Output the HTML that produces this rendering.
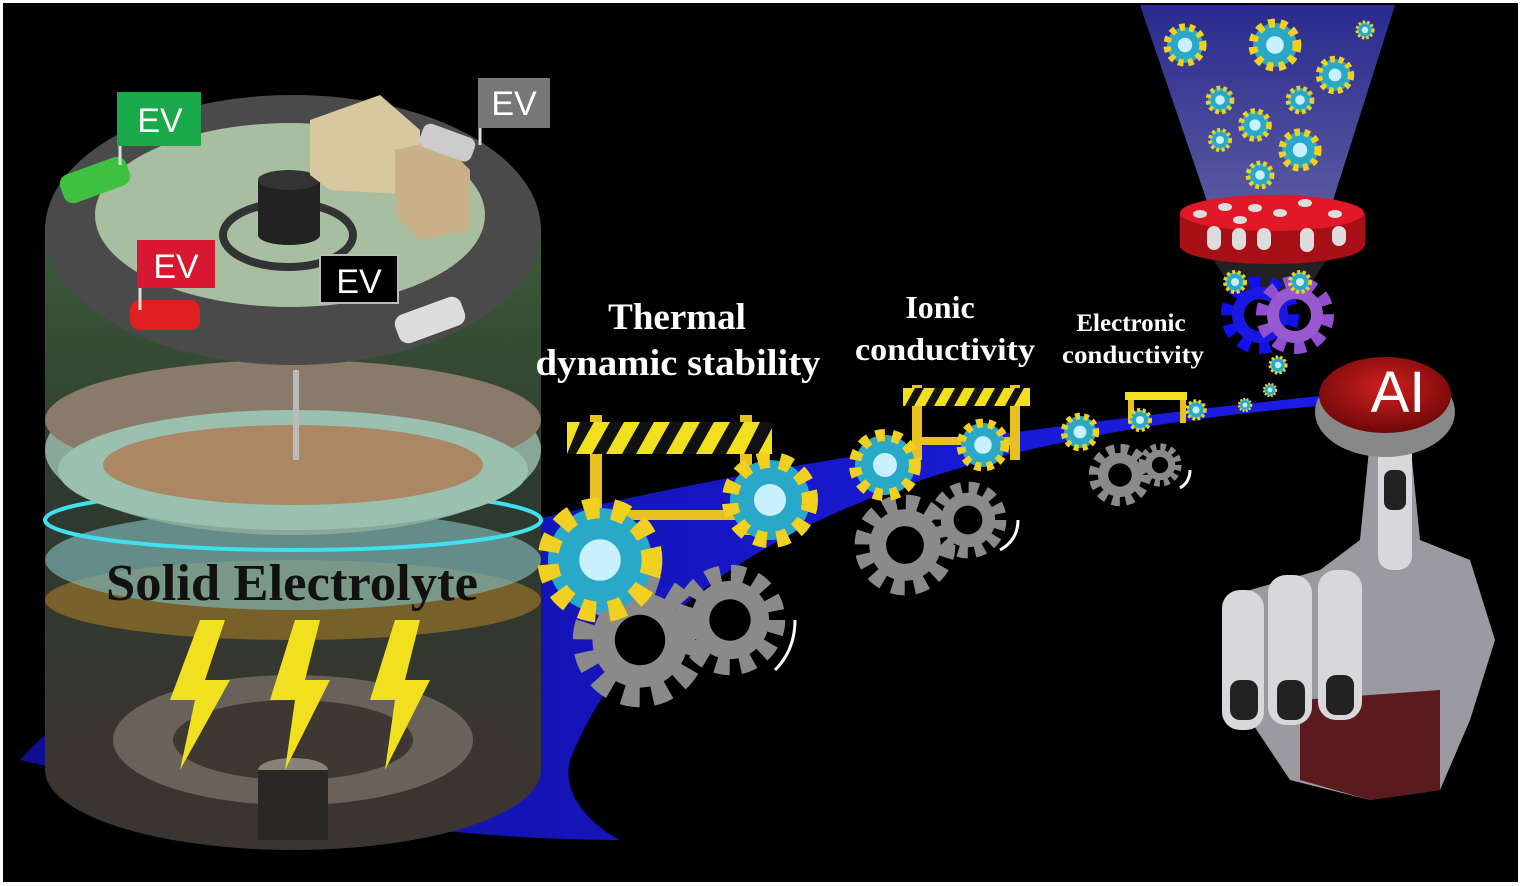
<!DOCTYPE html>
<html><head><meta charset="utf-8"><style>
html,body{margin:0;padding:0;background:#fff;}
svg{display:block;}
</style></head><body>
<svg width="1521" height="886" viewBox="0 0 1521 886" xmlns="http://www.w3.org/2000/svg">
<defs>
<linearGradient id="body" x1="0" y1="0" x2="0" y2="1">
<stop offset="0" stop-color="#3c5a3a"/><stop offset="0.5" stop-color="#2d3a2e"/><stop offset="1" stop-color="#3a3530"/></linearGradient>
<linearGradient id="swoosh" x1="0" y1="0" x2="1" y2="0">
<stop offset="0" stop-color="#1010a0"/><stop offset="0.6" stop-color="#1a1ae0"/><stop offset="1" stop-color="#2020ff"/></linearGradient>
<linearGradient id="funnel" x1="0" y1="0" x2="0" y2="1">
<stop offset="0" stop-color="#2a2a90"/><stop offset="1" stop-color="#5a5aa0"/></linearGradient>
<radialGradient id="ai" cx="0.5" cy="0.4" r="0.6"><stop offset="0" stop-color="#d02020"/><stop offset="1" stop-color="#700808"/></radialGradient>
<g id="gear"><circle r="40" fill="none" stroke="#8a8a8a" stroke-width="16" stroke-dasharray="12 9"/><circle r="34" fill="#8a8a8a"/><circle r="18" fill="#000"/></g>
<g id="crys"><circle r="20" fill="#2aa8c8"/><circle r="20" fill="none" stroke="#f0d020" stroke-width="8" stroke-dasharray="6 5"/><circle r="8" fill="#c8f0ff"/></g>
</defs>
<rect x="0" y="0" width="1521" height="886" fill="#fff"/>
<rect x="3" y="3" width="1515" height="879" fill="#000"/>

<path d="M20 760 C200 560 700 460 1330 395 L1330 405 C900 440 650 560 570 760 C560 800 600 830 620 840 C400 840 150 790 20 760Z" fill="url(#swoosh)" opacity="0.9"/>

<rect x="45" y="230" width="496" height="540" fill="url(#body)"/>
<ellipse cx="293" cy="770" rx="248" ry="80" fill="#3a3530"/>
<ellipse cx="293" cy="740" rx="180" ry="65" fill="#6a625a"/>
<ellipse cx="293" cy="740" rx="120" ry="40" fill="#3e3832"/>
<ellipse cx="293" cy="770" rx="35" ry="12" fill="#8a8278"/>
<rect x="258" y="770" width="70" height="70" fill="#2a2824"/>
<ellipse cx="293" cy="600" rx="248" ry="40" fill="#8a6a2a" opacity="0.8"/>
<ellipse cx="293" cy="560" rx="248" ry="50" fill="#7ab0b0" opacity="0.7"/>
<ellipse cx="293" cy="520" rx="248" ry="30" fill="none" stroke="#40e0f0" stroke-width="4"/>
<ellipse cx="293" cy="450" rx="248" ry="85" fill="#8aa89a"/>
<ellipse cx="293" cy="420" rx="248" ry="60" fill="#8a7a6a"/>
<ellipse cx="293" cy="470" rx="235" ry="60" fill="#9ac0b0"/>
<ellipse cx="293" cy="465" rx="190" ry="40" fill="#b07850" opacity="0.8"/>
<line x1="296" y1="370" x2="296" y2="460" stroke="#bbb" stroke-width="6"/>
<text x="292" y="600" font-family="Liberation Serif,serif" font-weight="bold" font-size="52" fill="#111" text-anchor="middle" textLength="372" lengthAdjust="spacingAndGlyphs">Solid Electrolyte</text>
<g fill="#f0e020">
<path d="M200 620 L170 700 L195 700 L180 770 L230 680 L205 680 L225 620Z"/>
<path d="M295 620 L270 700 L295 700 L285 770 L330 680 L305 680 L320 620Z"/>
<path d="M395 620 L370 700 L395 700 L385 770 L430 680 L405 680 L420 620Z"/>
</g>
<ellipse cx="293" cy="230" rx="248" ry="135" fill="#4a4a4a"/>
<ellipse cx="290" cy="215" rx="195" ry="92" fill="#a8bea0"/>
<ellipse cx="288" cy="235" rx="65" ry="32" fill="none" stroke="#333" stroke-width="8"/>
<rect x="258" y="180" width="62" height="55" fill="#222"/>
<ellipse cx="289" cy="180" rx="31" ry="10" fill="#333"/>
<ellipse cx="289" cy="235" rx="31" ry="10" fill="#222"/>
<path d="M310 120 L380 95 L420 130 L420 195 L330 190 L310 175Z" fill="#d8c8a0"/>
<path d="M395 150 L440 140 L470 170 L470 230 L420 240 L395 215Z" fill="#c8b088"/>
<rect x="60" y="165" width="70" height="30" rx="10" fill="#40c040" transform="rotate(-20 95 180)"/>
<rect x="130" y="300" width="70" height="30" rx="10" fill="#e02020"/>
<rect x="395" y="305" width="70" height="30" rx="10" fill="#ddd" transform="rotate(-20 430 320)"/>
<rect x="420" y="130" width="55" height="25" rx="8" fill="#ccc" transform="rotate(20 447 142)"/>
<g font-family="Liberation Sans,sans-serif" font-size="34" text-anchor="middle">
<line x1="120" y1="140" x2="120" y2="165" stroke="#ddd" stroke-width="3"/>
<rect x="117" y="92" width="84" height="54" fill="#1aa84a"/><text x="160" y="132" fill="#fff">EV</text>
<line x1="480" y1="120" x2="480" y2="145" stroke="#ddd" stroke-width="3"/>
<rect x="478" y="78" width="72" height="50" fill="#777"/><text x="514" y="115" fill="#fff">EV</text>
<line x1="140" y1="285" x2="140" y2="310" stroke="#ddd" stroke-width="3"/>
<rect x="137" y="240" width="78" height="48" fill="#d81830"/><text x="176" y="278" fill="#fff">EV</text>
<rect x="320" y="255" width="78" height="48" fill="#000" stroke="#bbb" stroke-width="2"/><text x="359" y="293" fill="#fff">EV</text>
</g>

<use href="#gear" transform="translate(640,640) scale(1.4)"/>
<use href="#gear" transform="translate(730,620) scale(1.15)"/>
<use href="#gear" transform="translate(905,545) scale(1.05)"/>
<use href="#gear" transform="translate(968,520) scale(0.8)"/>
<use href="#gear" transform="translate(1120,475) scale(0.65)"/>
<use href="#gear" transform="translate(1160,465) scale(0.45)"/>
<g fill="none" stroke="#fff" stroke-width="3">
<path d="M775 670 Q795 650 795 620"/><path d="M1000 550 Q1018 540 1018 520"/><path d="M1180 488 Q1190 482 1190 470"/></g>

<g fill="#e8c020">
<rect x="590" y="415" width="12" height="120"/><rect x="740" y="415" width="12" height="120"/>
<rect x="585" y="510" width="165" height="10"/>
<rect x="912" y="385" width="10" height="75"/><rect x="1010" y="385" width="10" height="75"/><rect x="915" y="437" width="100" height="8"/>
<rect x="1128" y="393" width="6" height="30"/><rect x="1180" y="393" width="6" height="30"/>
</g>
<rect x="567" y="422" width="205" height="32" fill="#f0e020"/>
<g fill="#111"><path d="M580 422h14l-18 32h-9z"/><path d="M610 422h14l-18 32h-14z"/><path d="M640 422h14l-18 32h-14z"/><path d="M670 422h14l-18 32h-14z"/><path d="M700 422h14l-18 32h-14z"/><path d="M730 422h14l-18 32h-14z"/><path d="M760 422h12v6l-14 26h-14z"/></g>
<rect x="903" y="388" width="127" height="18" fill="#f0e020"/>
<g fill="#111"><path d="M915 388h9l-10 18h-9z"/><path d="M935 388h9l-10 18h-9z"/><path d="M955 388h9l-10 18h-9z"/><path d="M975 388h9l-10 18h-9z"/><path d="M995 388h9l-10 18h-9z"/><path d="M1015 388h9l-10 18h-9z"/></g>
<rect x="1125" y="392" width="62" height="8" fill="#f0e020"/>

<use href="#crys" transform="translate(600,560) scale(2.6)"/>
<use href="#crys" transform="translate(770,500) scale(2)"/>
<use href="#crys" transform="translate(885,465) scale(1.5)"/>
<use href="#crys" transform="translate(983,445) scale(1.1)"/>
<use href="#crys" transform="translate(1080,432) scale(0.8)"/>
<use href="#crys" transform="translate(1140,420) scale(0.5)"/>
<use href="#crys" transform="translate(1196,410) scale(0.45)"/>
<use href="#crys" transform="translate(1245,405) scale(0.3)"/>
<use href="#crys" transform="translate(1278,365) scale(0.4)"/>
<use href="#crys" transform="translate(1270,390) scale(0.3)"/>

<g font-family="Liberation Serif,serif" font-weight="bold" fill="#fff" text-anchor="middle">
<text x="677" y="329" font-size="37">Thermal</text>
<text x="678" y="375" font-size="37" textLength="285" lengthAdjust="spacingAndGlyphs">dynamic stability</text>
<text x="940" y="318" font-size="32">Ionic</text>
<text x="945" y="360" font-size="32" textLength="180" lengthAdjust="spacingAndGlyphs">conductivity</text>
<text x="1131" y="331" font-size="25">Electronic</text>
<text x="1133" y="363" font-size="25" textLength="142" lengthAdjust="spacingAndGlyphs">conductivity</text>
</g>

<path d="M1140 5 L1395 5 L1330 210 L1210 210Z" fill="url(#funnel)"/>
<path d="M1200 240 L1340 240 L1300 300 L1240 300Z" fill="#222"/>
<use href="#crys" transform="translate(1185,45) scale(0.9)"/><use href="#crys" transform="translate(1275,45) scale(1.1)"/>
<use href="#crys" transform="translate(1335,75) scale(0.8)"/><use href="#crys" transform="translate(1220,100) scale(0.6)"/>
<use href="#crys" transform="translate(1300,100) scale(0.6)"/><use href="#crys" transform="translate(1255,125) scale(0.7)"/>
<use href="#crys" transform="translate(1300,150) scale(0.9)"/><use href="#crys" transform="translate(1220,140) scale(0.5)"/>
<use href="#crys" transform="translate(1260,175) scale(0.6)"/><use href="#crys" transform="translate(1365,30) scale(0.4)"/>
<rect x="1180" y="213" width="185" height="33" fill="#a81018"/>
<ellipse cx="1272" cy="246" rx="92" ry="18" fill="#a81018"/>
<ellipse cx="1272" cy="213" rx="92" ry="18" fill="#e01828"/>
<g fill="#ddd"><rect x="1207" y="226" width="14" height="24" rx="7"/><rect x="1232" y="228" width="14" height="22" rx="7"/><rect x="1257" y="228" width="14" height="22" rx="7"/><rect x="1300" y="228" width="14" height="24" rx="7"/><rect x="1332" y="226" width="14" height="20" rx="7"/>
<ellipse cx="1200" cy="214" rx="7" ry="4"/><ellipse cx="1225" cy="207" rx="7" ry="4"/><ellipse cx="1255" cy="208" rx="7" ry="4"/><ellipse cx="1280" cy="213" rx="7" ry="4"/><ellipse cx="1305" cy="203" rx="7" ry="4"/><ellipse cx="1335" cy="214" rx="7" ry="4"/><ellipse cx="1240" cy="220" rx="7" ry="4"/></g>
<circle cx="1260" cy="315" r="32" fill="none" stroke="#1010f0" stroke-width="14" stroke-dasharray="11 9"/><circle cx="1260" cy="315" r="22" fill="none" stroke="#1818e0" stroke-width="12"/>
<circle cx="1295" cy="315" r="32" fill="none" stroke="#9050d0" stroke-width="14" stroke-dasharray="11 9"/><circle cx="1295" cy="315" r="22" fill="none" stroke="#9858d0" stroke-width="12"/>
<use href="#crys" transform="translate(1235,282) scale(0.5)"/><use href="#crys" transform="translate(1300,282) scale(0.5)"/>

<path d="M1370 440 L1410 440 L1420 540 L1470 560 L1495 640 L1470 720 L1440 790 L1370 800 L1290 780 L1250 720 L1225 620 L1250 590 L1320 570 L1360 540Z" fill="#9a9aa0"/>
<path d="M1300 700 L1440 690 L1440 790 L1370 800 L1300 780Z" fill="#5a1a1e"/>
<g fill="#d8d8dc"><rect x="1222" y="590" width="42" height="140" rx="18"/><rect x="1268" y="575" width="44" height="150" rx="18"/><rect x="1318" y="570" width="44" height="150" rx="18"/><rect x="1378" y="440" width="34" height="130" rx="14"/></g>
<g fill="#222"><rect x="1230" y="680" width="28" height="40" rx="10"/><rect x="1277" y="680" width="28" height="40" rx="10"/><rect x="1326" y="675" width="28" height="40" rx="10"/><rect x="1384" y="470" width="22" height="40" rx="8"/></g>
<ellipse cx="1385" cy="412" rx="70" ry="45" fill="#888"/>
<ellipse cx="1385" cy="395" rx="66" ry="38" fill="url(#ai)"/>
<text x="1398" y="412" font-family="Liberation Sans,sans-serif" font-size="58" fill="#fff" text-anchor="middle">AI</text>
</svg>
</body></html>
